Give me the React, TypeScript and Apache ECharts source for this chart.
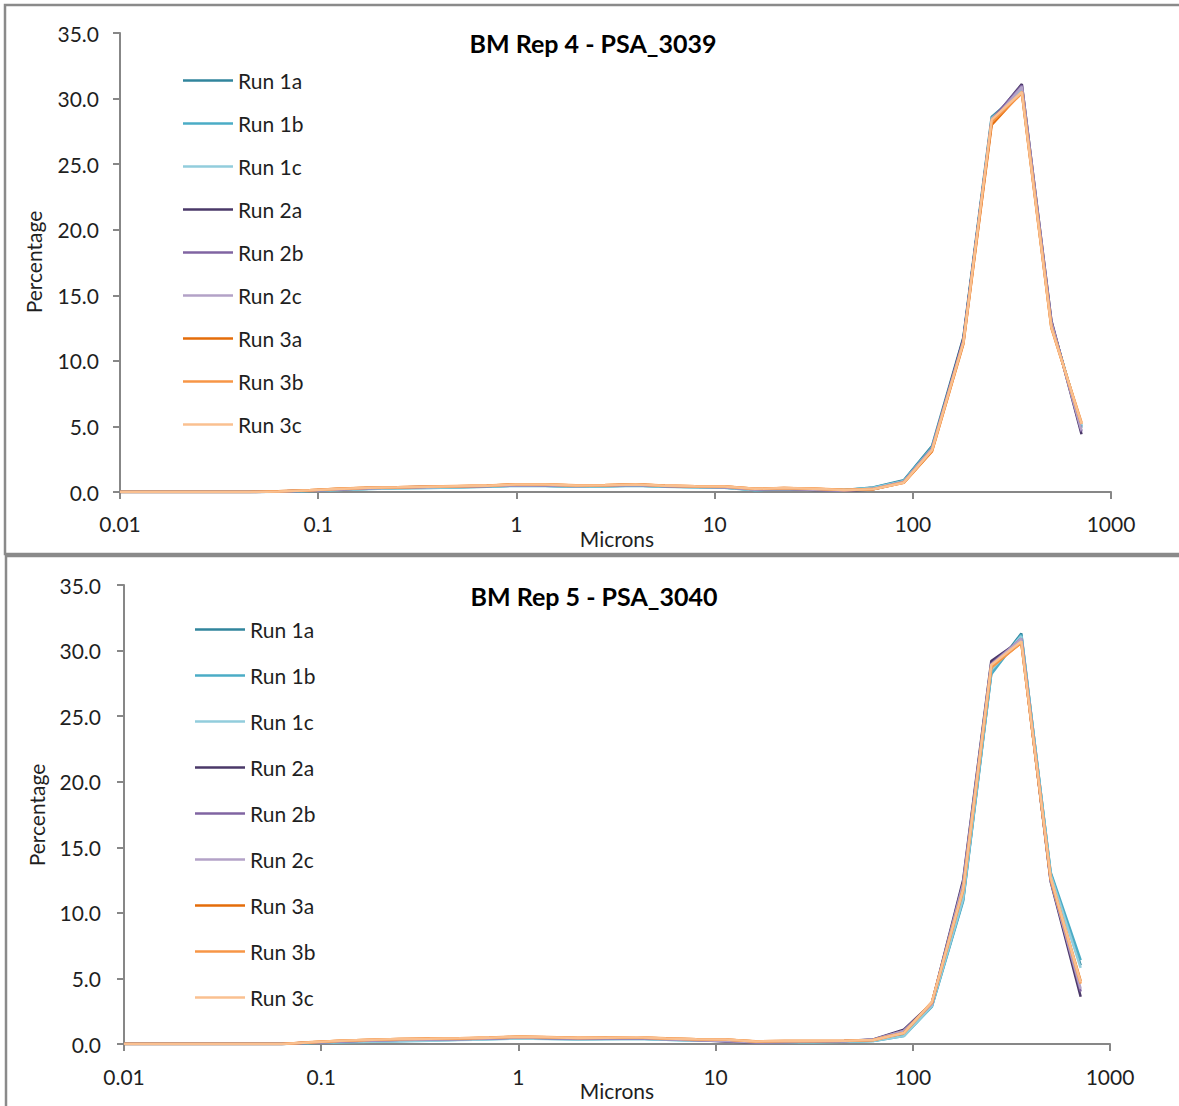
import React, { useEffect, useRef } from "react";
import * as echarts from "echarts";

const sizes = [0.01, 0.045, 0.063, 0.09, 0.125, 0.18, 0.25, 0.355, 0.5, 0.71, 1, 1.4, 2, 2.8, 4, 5.6, 8, 11.2, 16, 22.4, 31.5, 45, 63, 90, 125, 180, 250, 355, 500, 710];

const runNames = ["Run 1a", "Run 1b", "Run 1c", "Run 2a", "Run 2b", "Run 2c", "Run 3a", "Run 3b", "Run 3c"];
const runColors = ["#31859C", "#4BACC6", "#92CDDC", "#4A3868", "#8064A2", "#B3A2C7", "#E46C0A", "#F79646", "#FAC090"];

const yTicks = [0, 5, 10, 15, 20, 25, 30, 35];
const xTicks = [0.01, 0.1, 1, 10, 100, 1000];

const titles = ["BM Rep 4 - PSA_3039", "BM Rep 5 - PSA_3040"];

// BM Rep 4 - PSA_3039
const rep4 = [
  [0, 0, 0.03, 0.1, 0.18, 0.25, 0.3, 0.35, 0.38, 0.42, 0.5, 0.48, 0.42, 0.45, 0.5, 0.42, 0.38, 0.35, 0.15, 0.22, 0.2, 0.15, 0.35, 0.9, 3.5, 11.8, 28.6, 30.6, 12.9, 4.9],
  [0, 0, 0.02, 0.08, 0.15, 0.22, 0.28, 0.3, 0.35, 0.4, 0.48, 0.45, 0.4, 0.42, 0.48, 0.4, 0.36, 0.33, 0.14, 0.2, 0.18, 0.14, 0.33, 0.85, 3.4, 11.5, 28.4, 30.7, 12.8, 5.0],
  [0, 0, 0.02, 0.09, 0.16, 0.24, 0.29, 0.33, 0.36, 0.41, 0.5, 0.47, 0.41, 0.44, 0.5, 0.41, 0.37, 0.34, 0.16, 0.21, 0.2, 0.15, 0.3, 0.82, 3.35, 11.6, 28.5, 30.6, 12.7, 5.1],
  [0, 0, 0.04, 0.12, 0.2, 0.3, 0.35, 0.4, 0.42, 0.46, 0.55, 0.52, 0.47, 0.5, 0.55, 0.46, 0.4, 0.38, 0.2, 0.24, 0.16, 0.1, 0.2, 0.75, 3.3, 11.7, 28.3, 31.1, 13.1, 4.4],
  [0, 0, 0.04, 0.11, 0.2, 0.3, 0.34, 0.38, 0.41, 0.45, 0.54, 0.52, 0.46, 0.5, 0.56, 0.46, 0.41, 0.38, 0.2, 0.25, 0.17, 0.11, 0.22, 0.76, 3.3, 11.6, 28.4, 31.0, 13.0, 4.6],
  [0, 0, 0.03, 0.11, 0.19, 0.29, 0.33, 0.38, 0.41, 0.45, 0.53, 0.51, 0.46, 0.49, 0.55, 0.45, 0.4, 0.37, 0.19, 0.24, 0.18, 0.12, 0.24, 0.78, 3.3, 11.5, 28.2, 30.9, 12.9, 4.7],
  [0, 0, 0.05, 0.13, 0.24, 0.33, 0.36, 0.4, 0.44, 0.48, 0.6, 0.58, 0.5, 0.52, 0.6, 0.48, 0.43, 0.42, 0.24, 0.3, 0.25, 0.16, 0.2, 0.7, 3.1, 11.3, 28.0, 30.5, 12.6, 5.2],
  [0, 0, 0.05, 0.14, 0.25, 0.34, 0.37, 0.41, 0.45, 0.49, 0.6, 0.59, 0.51, 0.53, 0.6, 0.5, 0.44, 0.43, 0.25, 0.31, 0.26, 0.17, 0.22, 0.72, 3.15, 11.4, 28.2, 30.4, 12.5, 5.3],
  [0, 0, 0.04, 0.13, 0.23, 0.33, 0.36, 0.4, 0.44, 0.47, 0.58, 0.57, 0.5, 0.52, 0.58, 0.48, 0.43, 0.42, 0.24, 0.3, 0.25, 0.16, 0.21, 0.71, 3.2, 11.4, 28.4, 30.5, 12.6, 5.2],
];

// BM Rep 5 - PSA_3040
const rep5 = [
  [0, 0, 0, 0.1, 0.15, 0.2, 0.25, 0.3, 0.33, 0.4, 0.45, 0.42, 0.38, 0.4, 0.42, 0.35, 0.28, 0.3, 0.15, 0.18, 0.15, 0.2, 0.25, 0.65, 2.9, 11.0, 28.3, 31.3, 13.0, 6.0],
  [0, 0, 0, 0.08, 0.14, 0.18, 0.22, 0.28, 0.32, 0.38, 0.44, 0.4, 0.36, 0.38, 0.4, 0.33, 0.26, 0.28, 0.14, 0.17, 0.14, 0.18, 0.22, 0.6, 2.85, 10.9, 28.2, 31.2, 13.1, 6.4],
  [0, 0, 0, 0.09, 0.14, 0.18, 0.2, 0.25, 0.3, 0.35, 0.42, 0.38, 0.35, 0.36, 0.4, 0.32, 0.25, 0.27, 0.13, 0.16, 0.14, 0.18, 0.22, 0.6, 2.9, 11.1, 28.5, 31.1, 12.9, 5.8],
  [0, 0, 0, 0.12, 0.2, 0.28, 0.33, 0.36, 0.38, 0.42, 0.5, 0.46, 0.42, 0.44, 0.46, 0.38, 0.3, 0.2, 0.12, 0.15, 0.2, 0.22, 0.35, 1.1, 3.1, 12.5, 29.2, 30.8, 12.4, 3.6],
  [0, 0, 0, 0.12, 0.2, 0.27, 0.32, 0.36, 0.38, 0.42, 0.5, 0.46, 0.42, 0.44, 0.46, 0.38, 0.3, 0.22, 0.13, 0.16, 0.2, 0.22, 0.33, 1.0, 3.1, 12.3, 29.0, 30.9, 12.5, 4.0],
  [0, 0, 0, 0.11, 0.19, 0.26, 0.31, 0.35, 0.37, 0.41, 0.49, 0.45, 0.41, 0.43, 0.45, 0.37, 0.29, 0.22, 0.13, 0.16, 0.19, 0.21, 0.32, 1.0, 3.05, 12.2, 28.9, 30.9, 12.5, 4.2],
  [0, 0, 0, 0.14, 0.24, 0.32, 0.38, 0.4, 0.42, 0.48, 0.56, 0.52, 0.46, 0.48, 0.5, 0.42, 0.36, 0.34, 0.2, 0.22, 0.22, 0.24, 0.3, 0.85, 3.2, 11.8, 28.8, 30.6, 12.6, 4.8],
  [0, 0, 0, 0.15, 0.25, 0.33, 0.39, 0.41, 0.43, 0.49, 0.57, 0.53, 0.47, 0.49, 0.52, 0.43, 0.37, 0.35, 0.21, 0.23, 0.22, 0.24, 0.3, 0.82, 3.15, 11.7, 28.7, 30.6, 12.6, 4.6],
  [0, 0, 0, 0.14, 0.24, 0.32, 0.38, 0.4, 0.43, 0.48, 0.56, 0.52, 0.46, 0.48, 0.51, 0.42, 0.36, 0.34, 0.2, 0.22, 0.22, 0.24, 0.3, 0.84, 3.2, 11.8, 28.9, 30.7, 12.7, 4.7],
];

const FONT = "Lato";
const AXIS_COLOR = "#878787";
const TEXT_COLOR = "#1f1f1f";

export default function App() {
  const ref = useRef<HTMLDivElement>(null);

  useEffect(() => {
    document.body.style.margin = "0";
    const chart = echarts.init(ref.current!, undefined, { renderer: "svg" });

    const grids = [
      { left: 120, top: 33, width: 991, height: 459 },
      { left: 124, top: 585, width: 986, height: 459 },
    ];

    const fmtX = (v: number) => String(Number(v.toPrecision(3)));

    const xAxes = grids.map((_, i) => ({
      type: "log",
      logBase: 10,
      gridIndex: i,
      min: xTicks[0],
      max: xTicks[xTicks.length - 1],
      axisLine: { show: true, lineStyle: { color: AXIS_COLOR, width: 2 } },
      axisTick: { show: true, inside: false, length: 7, lineStyle: { color: AXIS_COLOR, width: 2 } },
      minorTick: { show: false },
      splitLine: { show: false },
      axisLabel: {
        formatter: fmtX,
        color: TEXT_COLOR,
        fontFamily: FONT,
        fontSize: 21,
        margin: i === 0 ? 21 : 22,
      },
    }));

    const yAxes = grids.map((_, i) => ({
      type: "value",
      gridIndex: i,
      min: yTicks[0],
      max: yTicks[yTicks.length - 1],
      interval: 5,
      axisLine: { show: true, lineStyle: { color: AXIS_COLOR, width: 2 } },
      axisTick: { show: true, inside: false, length: 7, lineStyle: { color: AXIS_COLOR, width: 2 } },
      splitLine: { show: false },
      axisLabel: {
        formatter: (v: number) => v.toFixed(1),
        color: TEXT_COLOR,
        fontFamily: FONT,
        fontSize: 21,
        margin: i === 0 ? 21 : 23,
      },
    }));

    const series: any[] = [];
    [rep4, rep5].forEach((rep, gi) => {
      rep.forEach((vals, ri) => {
        series.push({
          type: "line",
          name: runNames[ri],
          xAxisIndex: gi,
          yAxisIndex: gi,
          data: sizes.map((s, k) => [s, vals[k]]),
          showSymbol: false,
          symbol: "none",
          color: runColors[ri],
          lineStyle: { color: runColors[ri], width: 2.5 },
          itemStyle: { color: runColors[ri] },
          z: 2 + ri,
        });
      });
    });

    const legends = [
      { left: 183, top: 70, gap: 22 },
      { left: 195, top: 619, gap: 25 },
    ].map((l) => ({
      show: true,
      orient: "vertical",
      left: l.left,
      top: l.top,
      padding: 0,
      itemWidth: 50,
      itemHeight: 2.5,
      itemGap: l.gap,
      icon: "rect",
      selectedMode: false,
      data: runNames,
      textStyle: {
        color: TEXT_COLOR,
        fontFamily: FONT,
        fontSize: 21,
        lineHeight: 20,
      },
    }));

    chart.setOption({
      animation: false,
      backgroundColor: "#ffffff",
      title: [
        { text: titles[0], left: 593, top: 30, padding: 0, textAlign: "center", textStyle: { fontFamily: FONT, fontWeight: "bold", fontSize: 25, color: "#000000" } },
        { text: titles[1], left: 594, top: 583, padding: 0, textAlign: "center", textStyle: { fontFamily: FONT, fontWeight: "bold", fontSize: 25, color: "#000000" } },
      ],
      grid: grids,
      xAxis: xAxes,
      yAxis: yAxes,
      legend: legends,
      series,
      graphic: [
        { type: "rect", shape: { x: 5, y: 5, width: 1185, height: 549 }, style: { fill: "none", stroke: "#8a8a8a", lineWidth: 2.5 }, z: -10 },
        { type: "rect", shape: { x: 6, y: 556, width: 1185, height: 560 }, style: { fill: "none", stroke: "#8a8a8a", lineWidth: 2.5 }, z: -10 },
        { type: "text", x: 617, y: 538, style: { text: "Microns", font: `21px ${FONT}`, fill: TEXT_COLOR, textAlign: "center", textVerticalAlign: "middle" } },
        { type: "text", x: 617, y: 1090, style: { text: "Microns", font: `21px ${FONT}`, fill: TEXT_COLOR, textAlign: "center", textVerticalAlign: "middle" } },
        { type: "text", x: 33, y: 262, rotation: Math.PI / 2, style: { text: "Percentage", font: `21px ${FONT}`, fill: TEXT_COLOR, textAlign: "center", textVerticalAlign: "middle" } },
        { type: "text", x: 36, y: 815, rotation: Math.PI / 2, style: { text: "Percentage", font: `21px ${FONT}`, fill: TEXT_COLOR, textAlign: "center", textVerticalAlign: "middle" } },
      ],
    });

    return () => chart.dispose();
  }, []);

  return <div ref={ref} style={{ position: "absolute", left: 0, top: 0, width: 1179, height: 1106 }} />;
}
